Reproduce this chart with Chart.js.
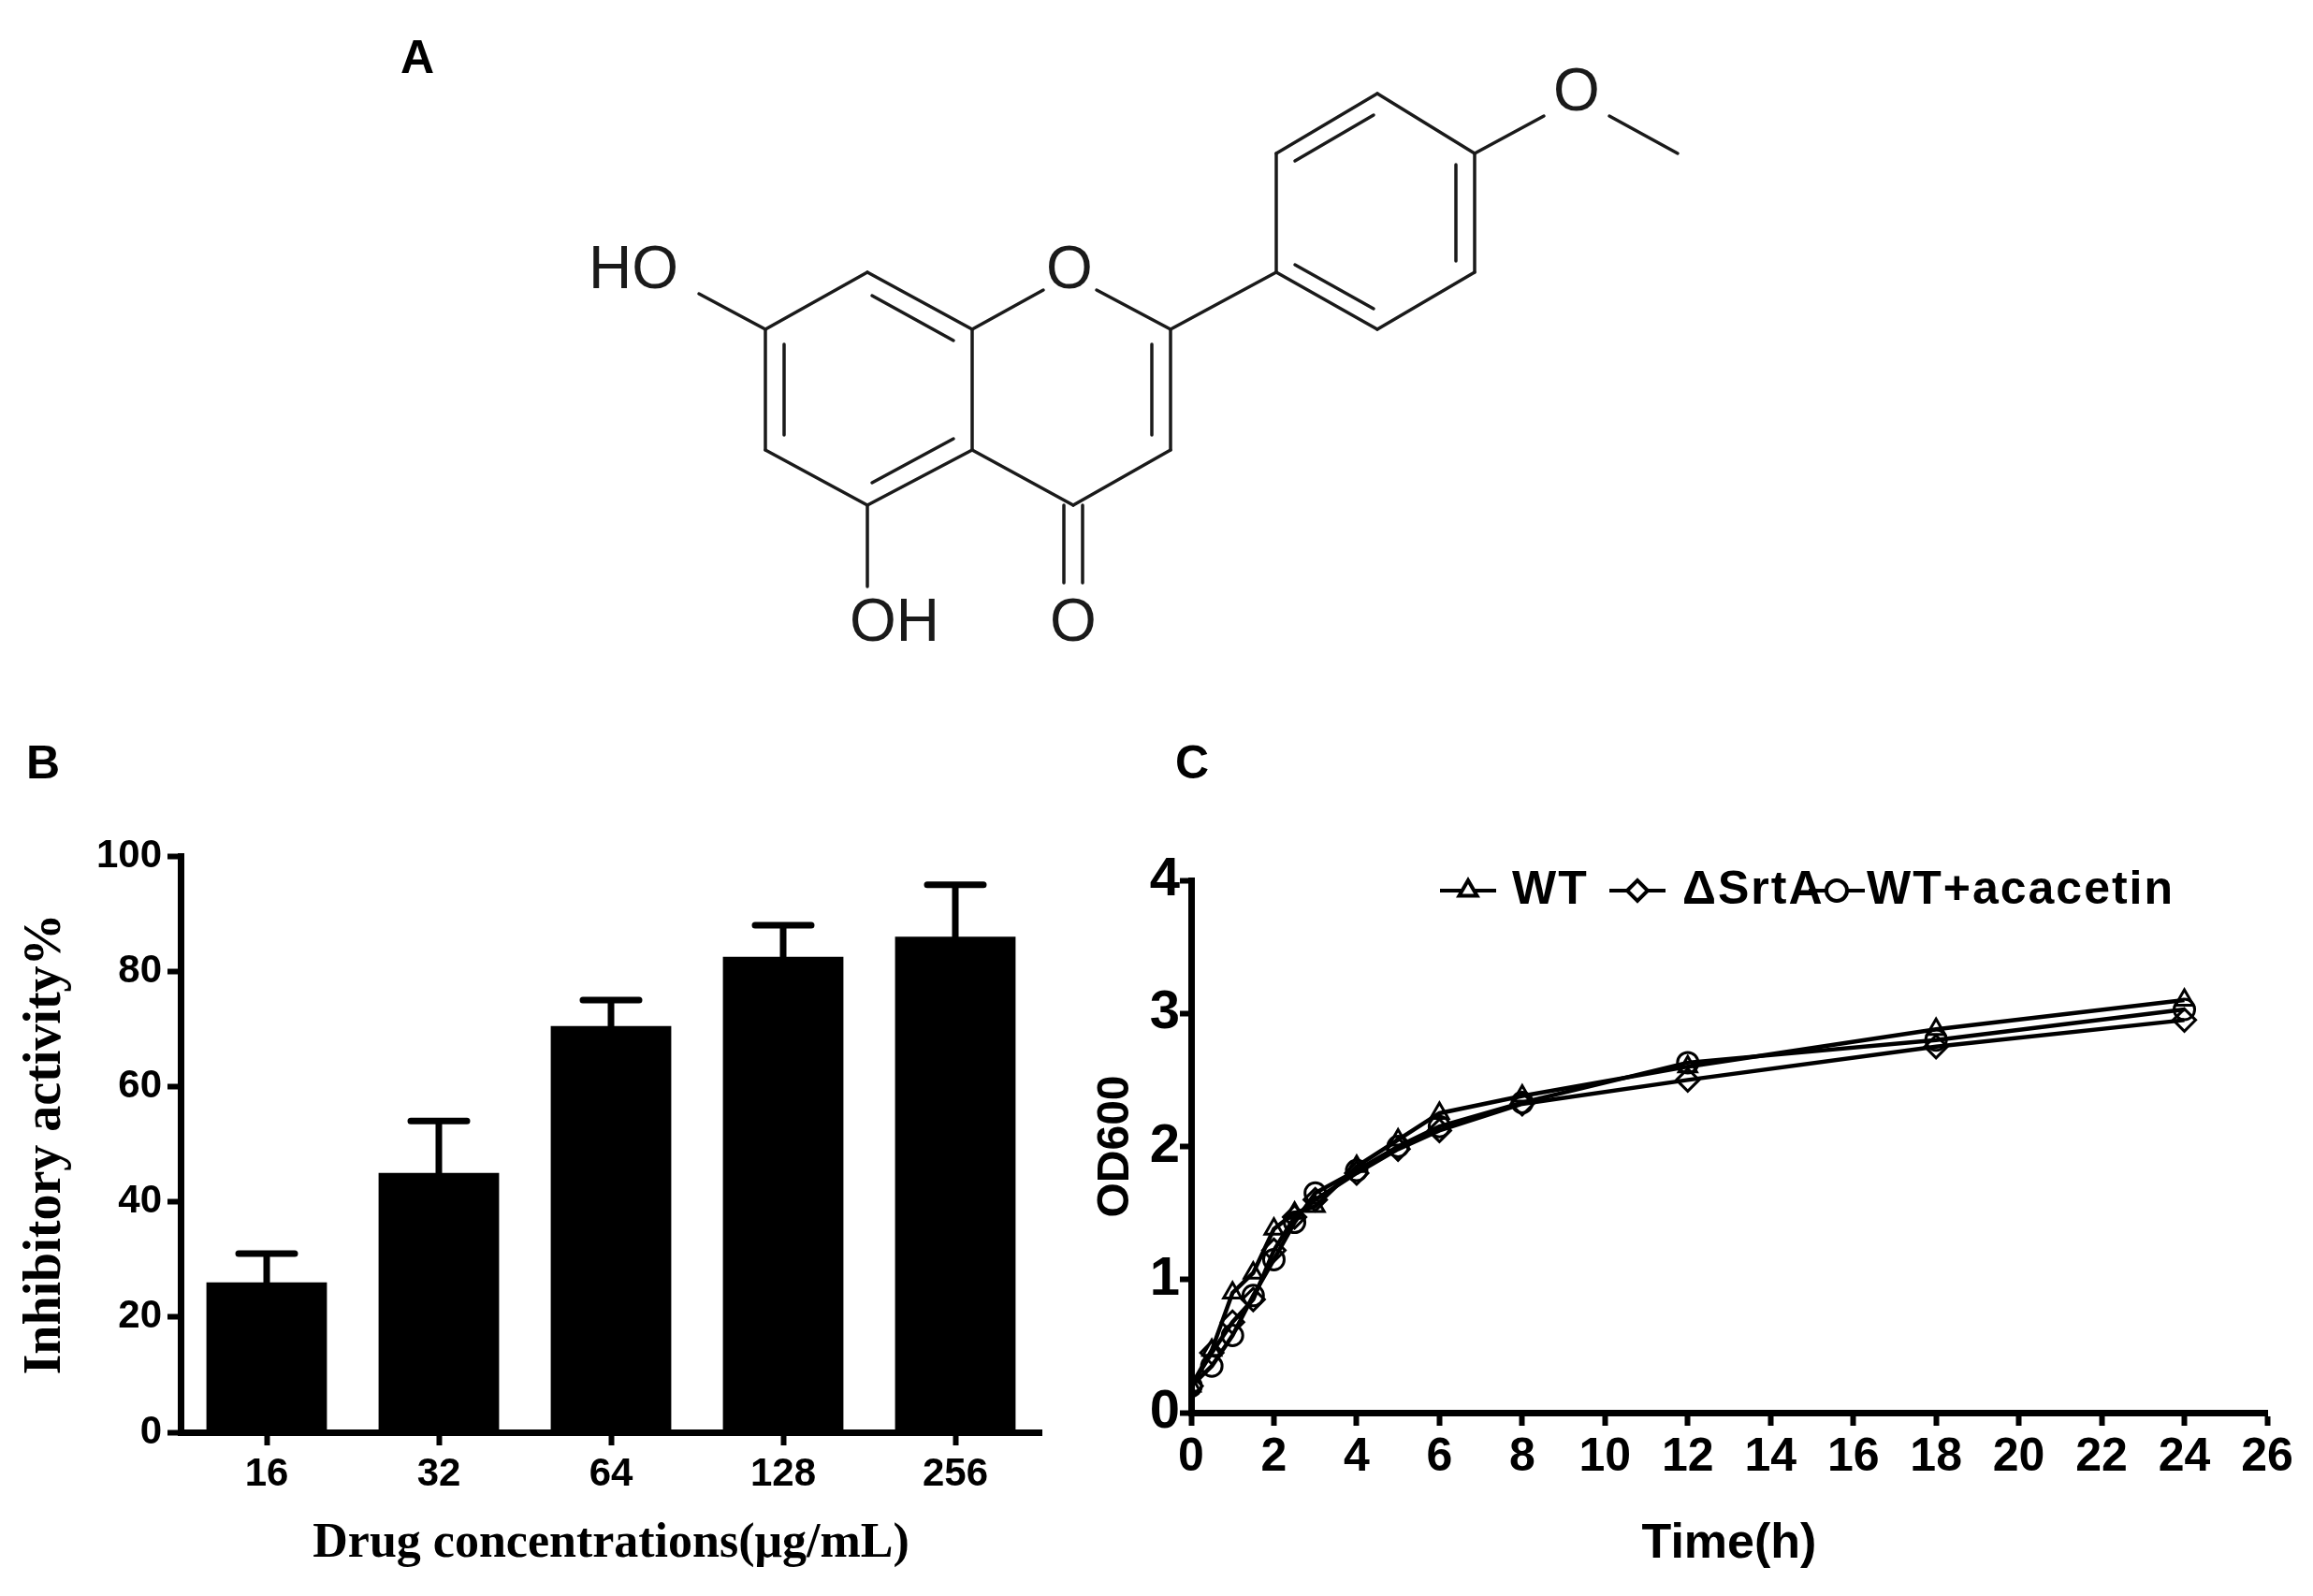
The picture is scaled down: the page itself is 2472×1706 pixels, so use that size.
<!DOCTYPE html>
<html>
<head>
<meta charset="utf-8">
<script src="https://cdn.jsdelivr.net/npm/chart.js@4"></script>
<style>
  body { margin: 0; background: #fff; }
  #page { position: relative; width: 2472px; height: 1706px; overflow: hidden; }
  .lbl { position: absolute; font: bold 50px "Liberation Sans", Arial, sans-serif; }
  #mol { position: absolute; left: 0; top: 0; }
  #boxB { position: absolute; left: 0; top: 880px; width: 1160px; height: 826px; }
  #boxC { position: absolute; left: 1160px; top: 880px; width: 1312px; height: 826px; }
</style>
</head>
<body>
<div id="page">
  <canvas id="mol" width="2472" height="760"></canvas>
  <div class="lbl" style="left:428px;top:32px">A</div>
  <div class="lbl" style="left:28px;top:786px">B</div>
  <div class="lbl" style="left:1256px;top:786px">C</div>
  <div id="boxB"><canvas id="chartB"></canvas></div>
  <div id="boxC"><canvas id="chartC"></canvas></div>
</div>
<script>
// panel B data
const concLabels = ['16', '32', '64', '128', '256'];
const inhibMean = [26, 45, 70.5, 82.5, 86];
const inhibErr = [5, 9, 4.5, 5.5, 9];

// panel C data
const timePoints = [0, 0.5, 1, 1.5, 2, 2.5, 3, 4, 5, 6, 8, 12, 18, 24];
const odWT = [0.2, 0.47, 0.9, 1.05, 1.38, 1.5, 1.55, 1.85, 2.05, 2.25, 2.38, 2.6, 2.88, 3.1];
const odSrtA = [0.2, 0.45, 0.68, 0.85, 1.22, 1.47, 1.6, 1.8, 1.98, 2.12, 2.32, 2.5, 2.75, 2.95];
const odAcacetin = [0.2, 0.35, 0.58, 0.88, 1.15, 1.43, 1.65, 1.82, 2.0, 2.15, 2.33, 2.63, 2.8, 3.03];

// --- structure of acacetin (panel A), plain canvas drawing
(function drawMolecule() {
    const c = document.getElementById('mol').getContext('2d');
    c.strokeStyle = '#1a1a1a';
    c.lineWidth = 3.5;
    c.lineCap = 'round';
    const seg = (a, b, d, e) => { c.beginPath(); c.moveTo(a, b); c.lineTo(d, e); c.stroke(); };
    // ring A
    seg(927, 291, 1039, 352); seg(1039, 352, 1039, 481); seg(1039, 481, 927, 540);
    seg(927, 540, 818, 481); seg(818, 481, 818, 352); seg(818, 352, 927, 291);
    seg(932, 316, 1019, 364); seg(838, 368, 838, 465); seg(932, 516, 1019, 469);
    // ring C
    seg(1039, 352, 1115, 310); seg(1172, 310, 1251, 352); seg(1251, 352, 1251, 481);
    seg(1251, 481, 1147, 540); seg(1147, 540, 1039, 481);
    seg(1231, 368, 1231, 465);
    // C=O
    seg(1137, 540, 1137, 623); seg(1157, 540, 1157, 623);
    // OH groups
    seg(927, 540, 927, 627); seg(818, 352, 747, 314);
    // ring B
    seg(1251, 352, 1364, 291); seg(1364, 291, 1364, 164); seg(1364, 164, 1472, 100);
    seg(1472, 100, 1576, 164); seg(1576, 164, 1576, 291); seg(1576, 291, 1472, 352);
    seg(1472, 352, 1364, 291);
    seg(1384, 172, 1468, 123); seg(1384, 283, 1468, 330); seg(1556, 176, 1556, 279);
    // methoxy
    seg(1576, 164, 1650, 124); seg(1720, 124, 1793, 164);
    c.fillStyle = '#1a1a1a';
    c.font = '64px "Liberation Sans", Arial, sans-serif';
    c.textAlign = 'center';
    c.textBaseline = 'middle';
    c.fillText('HO', 677, 290);
    c.fillText('O', 1143, 290);
    c.fillText('OH', 956, 667);
    c.fillText('O', 1147, 667);
    c.fillText('O', 1685, 100);
})();

// upper error bars for panel B
const errorBarPlugin = {
    id: 'errorBars',
    afterDatasetsDraw(chart) {
        const y = chart.scales.y;
        const ctx = chart.ctx;
        chart.getDatasetMeta(0).data.forEach((bar, i) => {
            const top = y.getPixelForValue(inhibMean[i] + inhibErr[i]);
            ctx.save();
            ctx.strokeStyle = '#000';
            ctx.lineWidth = 7;
            ctx.lineCap = 'round';
            ctx.beginPath();
            ctx.moveTo(bar.x, bar.y);
            ctx.lineTo(bar.x, top);
            ctx.moveTo(bar.x - 30, top);
            ctx.lineTo(bar.x + 30, top);
            ctx.stroke();
            ctx.restore();
        });
    }
};

const serif = '"Liberation Serif", "Times New Roman", serif';
const sans = '"Liberation Sans", Arial, sans-serif';

new Chart(document.getElementById('chartB'), {
    type: 'bar',
    data: {
        labels: concLabels,
        datasets: [{
            data: inhibMean,
            backgroundColor: '#000',
            borderWidth: 0,
            barPercentage: 0.7,
            categoryPercentage: 1
        }]
    },
    options: {
        responsive: true,
        maintainAspectRatio: false,
        animation: false,
        layout: { padding: { top: 35, right: 47, left: 0, bottom: 0 } },
        plugins: { legend: { display: false }, tooltip: { enabled: false } },
        scales: {
            x: {
                afterFit: s => { s.height = 175; },
                grid: { display: true, offset: false, drawOnChartArea: false, tickLength: 14, tickWidth: 6, tickColor: '#000' },
                border: { width: 7, color: '#000' },
                ticks: { color: '#000', font: { family: sans, size: 42, weight: 'bold' }, padding: 6 },
                title: { display: true, text: 'Drug concentrations(μg/mL)', color: '#000', font: { family: serif, size: 52, weight: 'bold' }, padding: { top: 4, bottom: 24 } }
            },
            y: {
                min: 0, max: 100,
                afterFit: s => { s.width = 193; },
                grid: { display: true, drawOnChartArea: false, tickLength: 14, tickWidth: 6, tickColor: '#000' },
                border: { width: 7, color: '#000' },
                ticks: { stepSize: 20, color: '#000', font: { family: sans, size: 42, weight: 'bold' }, padding: 6 },
                title: { display: true, text: 'Inhibitory activity%', color: '#000', font: { family: serif, size: 56, weight: 'bold' }, padding: { top: 16, bottom: 4 } }
            }
        }
    },
    plugins: [errorBarPlugin]
});

// legend for panel C: line + marker + text, like the original
const lineLegendPlugin = {
    id: 'lineLegend',
    afterDraw(chart) {
        const ctx = chart.ctx;
        const items = [[409, 456, 'WT'], [590, 638, '\u0394SrtA'], [803, 835, 'WT+acacetin']];
        ctx.save();
        ctx.textBaseline = 'middle';
        ctx.textAlign = 'left';
        items.forEach(([mx, tx, text], i) => {
            const ds = chart.data.datasets[i];
            const yy = 72;
            ctx.strokeStyle = '#000';
            ctx.lineWidth = 4;
            ctx.beginPath();
            ctx.moveTo(mx - 30, yy); ctx.lineTo(mx + 30, yy); ctx.stroke();
            ctx.fillStyle = '#fff';
            Chart.helpers.drawPoint(ctx, {
                pointStyle: ds.pointStyle, radius: 11, borderWidth: 3, rotation: 0
            }, mx, yy);
            ctx.fillStyle = '#000';
            ctx.font = 'bold 50px ' + sans;
            ctx.letterSpacing = '2px';
            ctx.fillText(text, tx, yy);
            ctx.letterSpacing = '0px';
        });
        ctx.restore();
    }
};

function series(vals, style, lbl) {
    return {
        label: lbl,
        data: vals.map((v, i) => ({ x: timePoints[i], y: v })),
        borderColor: '#000',
        borderWidth: 4.5,
        pointStyle: style,
        pointRadius: style === 'rectRot' ? 12 : 11,
        pointBackgroundColor: 'rgba(255,255,255,0)',
        pointBorderColor: '#000',
        pointBorderWidth: 3,
        tension: 0
    };
}

new Chart(document.getElementById('chartC'), {
    type: 'line',
    data: {
        datasets: [
            series(odWT, 'triangle', 'WT'),
            series(odSrtA, 'rectRot', '\u0394SrtA'),
            series(odAcacetin, 'circle', 'WT+acacetin')
        ]
    },
    options: {
        responsive: true,
        maintainAspectRatio: false,
        animation: false,
        layout: { padding: { top: 61, right: 49, left: 0, bottom: 0 } },
        plugins: { legend: { display: false }, tooltip: { enabled: false } },
        scales: {
            x: {
                type: 'linear', min: 0, max: 26,
                afterFit: s => { s.height = 196; },
                grid: { display: true, drawOnChartArea: false, tickLength: 14, tickWidth: 6, tickColor: '#000' },
                border: { width: 7, color: '#000' },
                ticks: { stepSize: 2, color: '#000', font: { family: sans, size: 50, weight: 'bold' }, padding: 4 },
                title: { display: true, text: 'Time(h)', color: '#000', font: { family: sans, size: 52, weight: 'bold' }, padding: { top: 4, bottom: 24 } }
            },
            y: {
                min: 0, max: 4,
                afterFit: s => { s.width = 113; },
                grid: { display: true, drawOnChartArea: false, tickLength: 12, tickWidth: 6, tickColor: '#000' },
                border: { width: 7, color: '#000' },
                ticks: { stepSize: 1, color: '#000', font: { family: sans, size: 58, weight: 'bold' }, padding: 0 },
                title: { display: true, text: 'OD600', color: '#000', font: { family: sans, size: 48, weight: 'bold' }, padding: { bottom: 4 } }
            }
        }
    },
    plugins: [lineLegendPlugin]
});
</script>
</body>
</html>
